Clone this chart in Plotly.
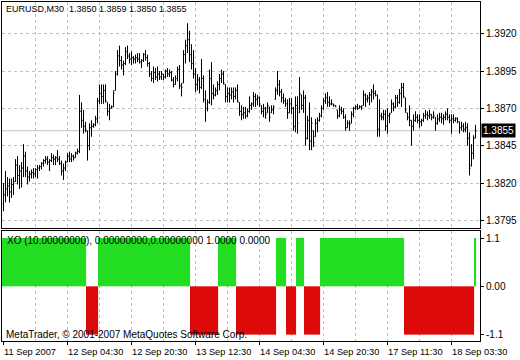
import plotly.graph_objects as go

# ---- data (EURUSD M30) ----
high = [
 1.3820,1.3828,1.3824,1.3823,1.3823,1.3824,1.3836,1.3838,1.3832,1.3834,
 1.3846,1.3841,1.3831,1.3828,1.3829,1.3830,1.3830,1.3832,1.3832,1.3834,
 1.3836,1.3838,1.3838,1.3836,1.3840,1.3839,1.3838,1.3842,1.3838,1.3835,
 1.3833,1.3835,1.3840,1.3841,1.3840,1.3839,1.3841,1.3843,1.3879,1.3874,
 1.3869,1.3861,1.3855,1.3860,1.3862,1.3860,1.3865,1.3877,1.3886,1.3886,
 1.3886,1.3886,1.3874,1.3873,1.3872,1.3882,1.3895,1.3909,1.3912,1.3905,
 1.3902,1.3911,1.3912,1.3907,1.3908,1.3905,1.3906,1.3907,1.3907,1.3903,
 1.3907,1.3909,1.3906,1.3901,1.3895,1.3898,1.3897,1.3898,1.3895,1.3895,
 1.3893,1.3896,1.3897,1.3896,1.3895,1.3891,1.3892,1.3898,1.3899,1.3887,
 1.3909,1.3916,1.3927,1.3922,1.3913,1.3909,1.3897,1.3893,1.3891,1.3903,
 1.3892,1.3882,1.3876,1.3896,1.3901,1.3886,1.3884,1.3888,1.3893,1.3896,
 1.3895,1.3886,1.3884,1.3884,1.3884,1.3884,1.3884,1.3886,1.3874,1.3872,
 1.3871,1.3871,1.3870,1.3878,1.3874,1.3881,1.3880,1.3879,1.3878,1.3872,
 1.3873,1.3871,1.3874,1.3871,1.3872,1.3872,1.3884,1.3895,1.3889,1.3883,
 1.3880,1.3877,1.3876,1.3877,1.3877,1.3871,1.3878,1.3878,1.3891,1.3879,
 1.3882,1.3879,1.3865,1.3874,1.3864,1.3855,1.3863,1.3864,1.3867,1.3872,
 1.3877,1.3880,1.3881,1.3878,1.3876,1.3873,1.3872,1.3869,1.3872,1.3871,
 1.3870,1.3866,1.3862,1.3862,1.3868,1.3871,1.3872,1.3873,1.3872,1.3872,
 1.3882,1.3880,1.3879,1.3881,1.3883,1.3886,1.3882,1.3879,1.3876,1.3867,
 1.3869,1.3869,1.3870,1.3867,1.3876,1.3874,1.3879,1.3879,1.3883,1.3887,
 1.3887,1.3877,1.3867,1.3872,1.3862,1.3866,1.3868,1.3866,1.3866,1.3863,
 1.3867,1.3869,1.3868,1.3869,1.3866,1.3868,1.3864,1.3866,1.3867,1.3867,
 1.3866,1.3868,1.3870,1.3866,1.3866,1.3866,1.3864,1.3864,1.3861,1.3861,
 1.3860,1.3861,1.3860,1.3854,1.3846,1.3852,1.3859]

low = [
 1.3801,1.3807,1.3811,1.3807,1.3810,1.3812,1.3821,1.3819,1.3816,1.3817,
 1.3824,1.3824,1.3819,1.3821,1.3823,1.3823,1.3824,1.3823,1.3828,1.3829,
 1.3831,1.3833,1.3832,1.3828,1.3834,1.3832,1.3832,1.3834,1.3832,1.3825,
 1.3822,1.3828,1.3834,1.3834,1.3834,1.3835,1.3837,1.3839,1.3840,1.3857,
 1.3853,1.3854,1.3835,1.3842,1.3851,1.3857,1.3858,1.3860,1.3873,1.3873,
 1.3873,1.3874,1.3865,1.3862,1.3870,1.3871,1.3882,1.3892,1.3898,1.3896,
 1.3892,1.3899,1.3903,1.3900,1.3899,1.3900,1.3900,1.3901,1.3900,1.3897,
 1.3901,1.3902,1.3898,1.3891,1.3888,1.3887,1.3889,1.3888,1.3889,1.3889,
 1.3889,1.3890,1.3891,1.3891,1.3888,1.3884,1.3886,1.3888,1.3883,1.3878,
 1.3887,1.3900,1.3907,1.3901,1.3896,1.3890,1.3881,1.3882,1.3880,1.3883,
 1.3874,1.3861,1.3868,1.3873,1.3872,1.3876,1.3878,1.3879,1.3882,1.3887,
 1.3886,1.3874,1.3874,1.3874,1.3876,1.3874,1.3876,1.3874,1.3865,1.3862,
 1.3863,1.3863,1.3864,1.3867,1.3869,1.3871,1.3871,1.3872,1.3871,1.3866,
 1.3864,1.3863,1.3867,1.3861,1.3867,1.3866,1.3876,1.3879,1.3878,1.3874,
 1.3873,1.3871,1.3863,1.3867,1.3866,1.3855,1.3854,1.3853,1.3867,1.3869,
 1.3867,1.3845,1.3849,1.3842,1.3842,1.3844,1.3851,1.3854,1.3861,1.3864,
 1.3869,1.3873,1.3871,1.3871,1.3872,1.3871,1.3871,1.3863,1.3864,1.3866,
 1.3863,1.3855,1.3857,1.3855,1.3860,1.3864,1.3869,1.3869,1.3870,1.3869,
 1.3872,1.3871,1.3874,1.3872,1.3874,1.3876,1.3878,1.3851,1.3851,1.3862,
 1.3862,1.3855,1.3853,1.3860,1.3867,1.3868,1.3870,1.3871,1.3873,1.3871,
 1.3877,1.3867,1.3862,1.3858,1.3845,1.3855,1.3861,1.3860,1.3857,1.3858,
 1.3861,1.3863,1.3862,1.3863,1.3862,1.3863,1.3855,1.3859,1.3861,1.3860,
 1.3859,1.3862,1.3862,1.3860,1.3853,1.3860,1.3861,1.3860,1.3853,1.3855,
 1.3854,1.3854,1.3845,1.3825,1.3831,1.3836,1.3850]

open_ = [
 1.3806,1.3812,1.3816,1.3818,1.3814,1.3819,1.3821,1.3832,1.3825,1.3828,
 1.3830,1.3838,1.3828,1.3824,1.3826,1.3827,1.3826,1.3829,1.3830,1.3831,
 1.3833,1.3835,1.3836,1.3834,1.3835,1.3837,1.3836,1.3837,1.3836,1.3833,
 1.3828,1.3830,1.3834,1.3838,1.3836,1.3838,1.3837,1.3840,1.3841,1.3868,
 1.3862,1.3858,1.3855,1.3845,1.3857,1.3858,1.3859,1.3863,1.3875,1.3880,
 1.3878,1.3882,1.3874,1.3868,1.3870,1.3871,1.3882,1.3893,1.3905,1.3902,
 1.3899,1.3900,1.3908,1.3905,1.3903,1.3904,1.3903,1.3904,1.3903,1.3901,
 1.3902,1.3906,1.3904,1.3900,1.3893,1.3890,1.3894,1.3891,1.3893,1.3891,
 1.3893,1.3891,1.3895,1.3893,1.3894,1.3889,1.3886,1.3890,1.3896,1.3885,
 1.3887,1.3906,1.3912,1.3916,1.3906,1.3900,1.3893,1.3886,1.3889,1.3884,
 1.3890,1.3876,1.3870,1.3874,1.3890,1.3880,1.3879,1.3882,1.3886,1.3890,
 1.3893,1.3886,1.3878,1.3880,1.3879,1.3881,1.3878,1.3882,1.3874,1.3868,
 1.3866,1.3867,1.3865,1.3868,1.3872,1.3873,1.3878,1.3876,1.3877,1.3872,
 1.3868,1.3870,1.3867,1.3871,1.3867,1.3869,1.3876,1.3882,1.3886,1.3881,
 1.3877,1.3875,1.3873,1.3867,1.3873,1.3870,1.3858,1.3872,1.3867,1.3879,
 1.3872,1.3877,1.3850,1.3862,1.3848,1.3855,1.3851,1.3860,1.3862,1.3865,
 1.3870,1.3875,1.3877,1.3874,1.3873,1.3873,1.3872,1.3869,1.3865,1.3869,
 1.3868,1.3864,1.3857,1.3860,1.3860,1.3866,1.3870,1.3871,1.3870,1.3871,
 1.3872,1.3879,1.3876,1.3877,1.3879,1.3881,1.3880,1.3879,1.3856,1.3865,
 1.3864,1.3866,1.3858,1.3865,1.3867,1.3873,1.3871,1.3877,1.3874,1.3880,
 1.3884,1.3877,1.3867,1.3864,1.3862,1.3858,1.3862,1.3864,1.3862,1.3861,
 1.3862,1.3865,1.3866,1.3865,1.3866,1.3864,1.3864,1.3860,1.3863,1.3864,
 1.3863,1.3864,1.3866,1.3864,1.3862,1.3863,1.3862,1.3863,1.3861,1.3857,
 1.3858,1.3856,1.3857,1.3850,1.3832,1.3840,1.3850]

close = [
 1.3812,1.3816,1.3818,1.3814,1.3819,1.3821,1.3832,1.3825,1.3828,1.3830,
 1.3838,1.3828,1.3824,1.3826,1.3827,1.3826,1.3829,1.3830,1.3831,1.3833,
 1.3835,1.3836,1.3834,1.3835,1.3837,1.3836,1.3837,1.3836,1.3833,1.3828,
 1.3830,1.3834,1.3838,1.3836,1.3838,1.3837,1.3840,1.3841,1.3868,1.3862,
 1.3858,1.3856,1.3845,1.3857,1.3858,1.3859,1.3863,1.3875,1.3880,1.3878,
 1.3882,1.3875,1.3868,1.3870,1.3871,1.3880,1.3893,1.3905,1.3902,1.3899,
 1.3900,1.3908,1.3905,1.3903,1.3904,1.3903,1.3904,1.3903,1.3901,1.3902,
 1.3906,1.3904,1.3900,1.3893,1.3890,1.3894,1.3891,1.3893,1.3891,1.3893,
 1.3891,1.3895,1.3893,1.3894,1.3889,1.3886,1.3890,1.3896,1.3885,1.3884,
 1.3906,1.3912,1.3916,1.3906,1.3900,1.3893,1.3886,1.3889,1.3884,1.3890,
 1.3876,1.3870,1.3874,1.3890,1.3880,1.3879,1.3882,1.3886,1.3890,1.3893,
 1.3887,1.3878,1.3880,1.3879,1.3881,1.3878,1.3882,1.3875,1.3868,1.3866,
 1.3867,1.3865,1.3868,1.3872,1.3873,1.3878,1.3876,1.3877,1.3873,1.3868,
 1.3870,1.3866,1.3872,1.3864,1.3869,1.3871,1.3882,1.3886,1.3881,1.3877,
 1.3875,1.3873,1.3867,1.3873,1.3870,1.3858,1.3872,1.3860,1.3880,1.3872,
 1.3877,1.3850,1.3862,1.3848,1.3860,1.3847,1.3860,1.3862,1.3865,1.3870,
 1.3875,1.3877,1.3874,1.3873,1.3873,1.3872,1.3871,1.3865,1.3869,1.3868,
 1.3864,1.3857,1.3860,1.3859,1.3866,1.3870,1.3871,1.3870,1.3871,1.3871,
 1.3879,1.3876,1.3877,1.3879,1.3881,1.3880,1.3879,1.3856,1.3865,1.3864,
 1.3866,1.3858,1.3865,1.3866,1.3873,1.3871,1.3877,1.3874,1.3880,1.3884,
 1.3878,1.3869,1.3864,1.3862,1.3858,1.3862,1.3864,1.3862,1.3861,1.3862,
 1.3865,1.3866,1.3865,1.3866,1.3864,1.3865,1.3860,1.3863,1.3864,1.3863,
 1.3864,1.3866,1.3864,1.3862,1.3863,1.3862,1.3863,1.3861,1.3857,1.3858,
 1.3856,1.3857,1.3850,1.3830,1.3840,1.3850,1.3855]

# XO indicator: runs of +1 (up, green) and -1 (down, red)
xo_signs = [1, -1, 1, -1, 1, -1, 1, -1, 1, -1, 1, -1, 1]
xo_lengths = [42, 6, 46, 14, 9, 20, 5, 5, 4, 8, 42, 35, 1]

xtick_bars = [0, 32, 64, 96, 128, 160, 192, 224]
xtick_labels = ["11 Sep 2007", "12 Sep 04:30", "12 Sep 20:30", "13 Sep 12:30",
                "14 Sep 04:30", "14 Sep 20:30", "17 Sep 11:30", "18 Sep 03:30"]
price_ticks = [1.3795, 1.3820, 1.3845, 1.3870, 1.3895, 1.3920]
xo_tickvals = [1, 0, -1]
xo_ticktext = ["1.1", "0.00", "-1.1"]

n = len(close)
assert len(high) == n and len(low) == n and len(open_) == n
idx = list(range(n))
xo = []
for s, L in zip(xo_signs, xo_lengths):
    xo += [s] * L
assert len(xo) == n

W, H = 520, 360
FONT = "Liberation Sans, Arial, sans-serif"
GRID = "#c0c0c0"
DASH = "3px,3px"
UP_COLOR = "#22dd22"
DN_COLOR = "#dd0a0a"
# integer pixel offsets so thin bars stay sharp
xdom = [2 / W, 480 / W]
xrange_ = [-0.75, 238.25]
grid_bars = list(range(16, 240, 16))

fig = go.Figure()
fig.add_trace(go.Ohlc(
    x=idx, open=open_, high=high, low=low, close=close,
    xaxis="x", yaxis="y",
    increasing=dict(line=dict(color="black", width=1)),
    decreasing=dict(line=dict(color="black", width=1)),
    tickwidth=0.5, hoverinfo="skip"))
fig.add_trace(go.Bar(
    x=idx, y=xo, xaxis="x2", yaxis="y2", width=0.6,
    marker=dict(color=[UP_COLOR if v > 0 else DN_COLOR for v in xo],
                line=dict(width=0), opacity=0.999),
    hoverinfo="skip"))

axis_common = dict(showline=True, mirror=True, linecolor="black", linewidth=1,
                   zeroline=False, fixedrange=True)
fig.update_layout(
    width=W, height=H, margin=dict(l=0, r=0, t=0, b=0),
    paper_bgcolor="white", plot_bgcolor="white", showlegend=False,
    bargap=0.05,
    font=dict(family=FONT, size=10, color="black"),
    xaxis=dict(domain=xdom, range=xrange_, anchor="y", tickvals=grid_bars,
               showticklabels=False, ticks="", showgrid=True, gridcolor=GRID,
               griddash=DASH, gridwidth=1, rangeslider=dict(visible=False),
               **axis_common),
    xaxis2=dict(domain=xdom, range=xrange_, anchor="y2", tickvals=grid_bars,
                showticklabels=False, ticks="", showgrid=True, gridcolor=GRID,
                griddash=DASH, gridwidth=1, **axis_common),
    yaxis=dict(domain=[1 - 228 / H, 1 - 2 / H], range=[1.378986, 1.394123],
               anchor="x", side="right", tickvals=price_ticks, tickformat=".4f",
               ticks="outside", ticklen=3, tickcolor="black", showgrid=True,
               gridcolor=GRID, griddash=DASH, gridwidth=1,
               tickfont=dict(family=FONT, size=10, color="black"), **axis_common),
    yaxis2=dict(domain=[1 - 341 / H, 1 - 231 / H], range=[-1.132, 1.145],
                anchor="x2", side="right", tickvals=xo_tickvals, ticktext=xo_ticktext,
                ticks="outside", ticklen=3, tickcolor="black", showgrid=False,
                tickfont=dict(family=FONT, size=10, color="black"), **axis_common),
)

# current price line
fig.add_shape(type="line", xref="paper", yref="y", x0=xdom[0], x1=xdom[1],
              y0=close[-1], y1=close[-1], line=dict(color=GRID, width=1), layer="below")

# x tick marks below the indicator window
for b in xtick_bars:
    fig.add_shape(type="line", xref="x2", yref="paper", x0=b, x1=b,
                  y0=1 - 341 / H, y1=1 - 345 / H, line=dict(color="black", width=1))

annotations = []
for b, t in zip(xtick_bars, xtick_labels):
    annotations.append(dict(x=b, xref="x2", y=1 - 352 / H, yref="paper", text=t,
                            showarrow=False, xanchor="left", yanchor="middle", xshift=-2,
                            font=dict(size=9.3)))
nb = "\u00a0"
title = f"EURUSD,M30{nb}{nb}{open_[-1]:.4f} {high[-1]:.4f} {low[-1]:.4f} {close[-1]:.4f}"
annotations.append(dict(x=4 / W, xref="paper", y=1 - 9 / H, yref="paper", text=title,
                        showarrow=False, xanchor="left", yanchor="middle",
                        font=dict(size=9)))
annotations.append(dict(x=5 / W, xref="paper", y=1 - 241 / H, yref="paper",
                        text="XO (10.00000000), 0.00000000,0.00000000 1.0000 0.0000",
                        showarrow=False, xanchor="left", yanchor="middle"))
annotations.append(dict(x=4 / W, xref="paper", y=1 - 334.5 / H, yref="paper",
                        text="MetaTrader, \u00a9 2001-2007 MetaQuotes Software Corp.",
                        showarrow=False, xanchor="left", yanchor="middle"))
annotations.append(dict(x=481 / W, xref="paper", y=close[-1], yref="y",
                        text=f"{close[-1]:.4f}", showarrow=False, xanchor="left",
                        yanchor="middle", bgcolor="black", borderpad=1,
                        font=dict(color="white", size=10, family=FONT)))
fig.update_layout(annotations=annotations)

fig.write_html("out.html")
